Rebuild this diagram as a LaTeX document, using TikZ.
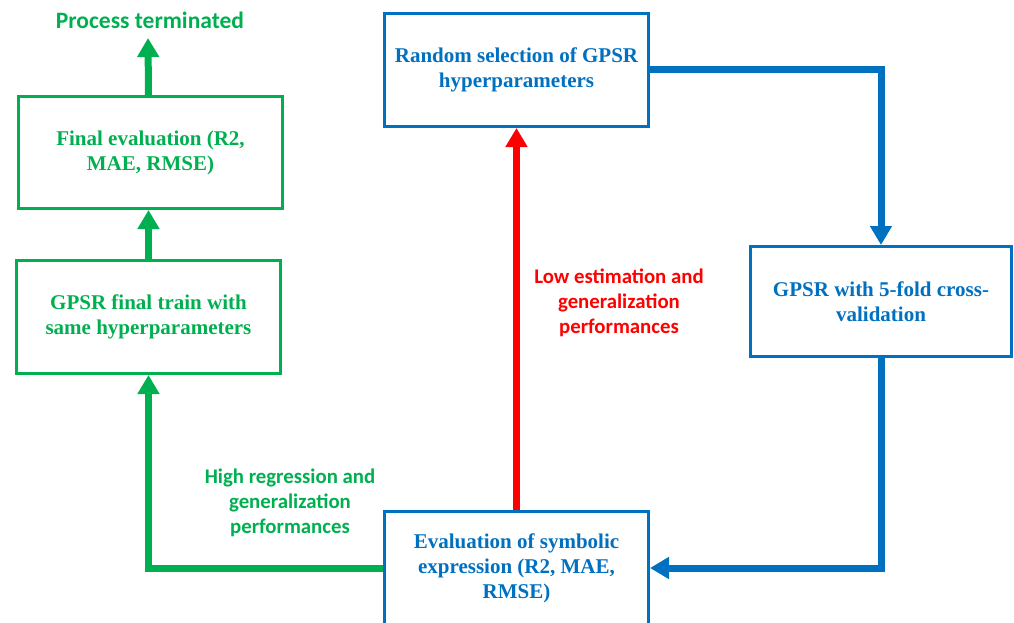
\documentclass[tikz,border=0pt]{standalone}
\usepackage{fontspec}
\setmainfont{Liberation Serif}
\newfontfamily\labfont{Carlito}
\usetikzlibrary{arrows.meta}
\definecolor{cgreen}{HTML}{00B050}
\definecolor{cblue}{HTML}{0070C0}
\definecolor{cred}{HTML}{FF0000}
\tikzset{
  box/.style={draw, line width=3pt, fill=white, inner sep=0pt, align=center,
    font=\fontsize{21}{25}\selectfont\bfseries},
  gbox/.style={box, draw=cgreen, text=cgreen},
  bbox/.style={box, draw=cblue, text=cblue},
  conn/.style={line width=7pt, -{Triangle[width=21pt,length=19pt]}},
  lab/.style={align=center, inner sep=0pt, font=\labfont\fontsize{20.8}{25}\selectfont\bfseries}
}
\begin{document}
\begin{tikzpicture}[x=1pt,y=-1pt]
\useasboundingbox (0,0) rectangle (1014,623);
\node[bbox, minimum width=264pt, minimum height=113pt] (rand) at (516.5,70) {Random selection of GPSR\\hyperparameters};
\node[bbox, minimum width=261pt, minimum height=110pt] (cv) at (881,301.5) {GPSR with 5-fold cross-\\validation};
\node[bbox, minimum width=264pt, minimum height=113pt] (evalsym) at (516.5,568) {Evaluation of symbolic\\expression (R2, MAE,\\RMSE)};
\node[gbox, minimum width=264pt, minimum height=112pt] (final) at (150.5,152.5) {Final evaluation (R2,\\MAE, RMSE)};
\node[gbox, minimum width=264pt, minimum height=113pt] (train) at (148.5,317) {GPSR final train with\\same hyperparameters};
\node[lab, text=cgreen, font=\labfont\fontsize{23.5}{28}\selectfont\bfseries] (term) at (150,20) {Process terminated};
\coordinate (termtip) at (148,38);
\node[lab, text=cred] (lowlab) at (619,303) {Low estimation and\\generalization\\performances};
\node[lab, text=cgreen] (highlab) at (290,503) {High regression and\\generalization\\performances};
% connectors
\draw[conn, cgreen] (train.north |- final.north) -- (termtip);
\draw[conn, cgreen] (train.north) -- (train.north |- final.south);
\draw[conn, cgreen] (evalsym.west) -| (train.south);
\draw[conn, cred] (evalsym.north) -- (rand.south);
\draw[conn, cblue] (rand.east) -| (cv.north);
\draw[conn, cblue] (cv.south) |- (evalsym.east);
\end{tikzpicture}
\end{document}
